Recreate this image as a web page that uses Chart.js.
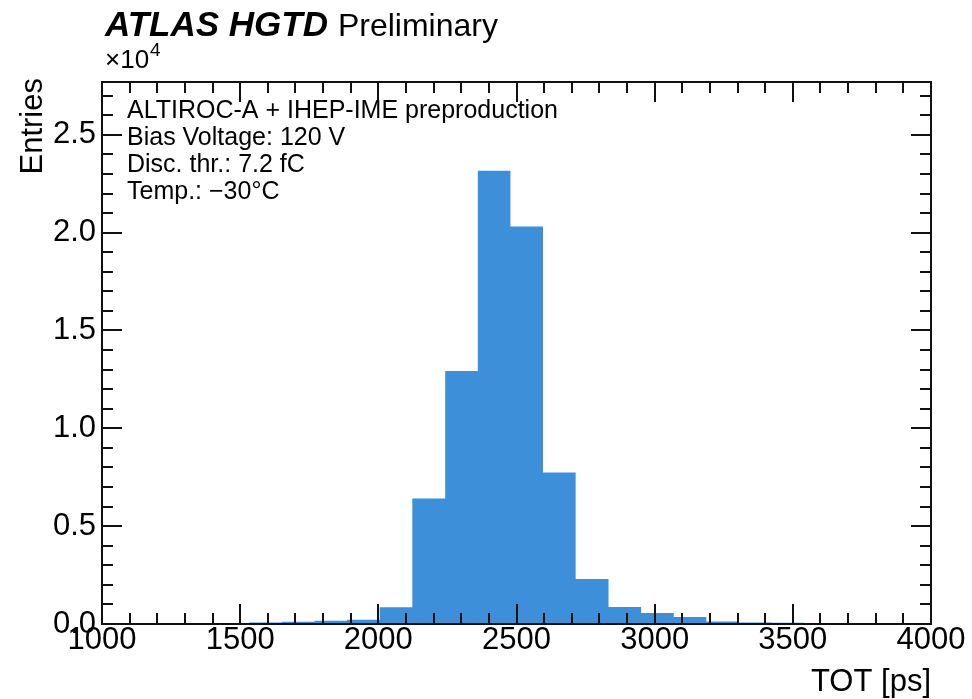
<!DOCTYPE html>
<html>
<head>
<meta charset="utf-8">
<script src="https://cdn.jsdelivr.net/npm/chart.js@4.4.1/dist/chart.umd.min.js"></script>
<style>
  html, body { margin: 0; padding: 0; background: #fff; }
  #wrap { width: 972px; height: 699px; position: relative; }
</style>
</head>
<body>
<div id="wrap"><canvas id="c"></canvas></div>
<script>
// ---- data ----
const binEdges = [1296, 1414, 1532, 1651, 1769, 1887, 2005, 2123, 2242, 2360, 2478,
                  2596, 2714, 2833, 2951, 3069, 3187, 3305, 3424, 3542, 3660];
const entries  = [45, 45, 80, 115, 165, 220, 850, 6415, 12930, 23170,
                  20315, 7740, 2306, 865, 560, 356, 130, 80, 70, 50];
const xTicks = [1000, 1500, 2000, 2500, 3000, 3500, 4000];
const yTicks = [0, 5000, 10000, 15000, 20000, 25000];
const yTickLabels = ["0.0", "0.5", "1.0", "1.5", "2.0", "2.5"];
const infoLines = ["ALTIROC-A + IHEP-IME preproduction", "Bias Voltage: 120 V",
                   "Disc. thr.: 7.2 fC", "Temp.: \u221230\u00B0C"];
const xTitle = "TOT [ps]";
const yTitle = "Entries";

const FONT = "'Liberation Sans', Arial, Helvetica, sans-serif";
const BLUE = "rgb(62,143,218)";

// step points: value of bin i spans [edge i, edge i+1]
const stepPoints = binEdges.map((e, i) => ({ x: e, y: i < entries.length ? entries[i] : 0 }));

const decor = {
  id: 'decor',
  afterDraw(chart) {
    const ctx = chart.ctx, a = chart.chartArea;
    const xs = chart.scales.x, ys = chart.scales.y;
    ctx.save();
    ctx.strokeStyle = '#111';
    ctx.lineWidth = 2;
    ctx.lineCap = 'butt';
    const seg = (x1, y1, x2, y2) => { ctx.beginPath(); ctx.moveTo(x1, y1); ctx.lineTo(x2, y2); ctx.stroke(); };
    // x ticks (bottom and top), minor every 100, major every 500
    for (let v = xs.min; v <= xs.max + 1e-6; v += 100) {
      const px = Math.round(xs.getPixelForValue(v));
      const L = (Math.round(v) % 500 === 0) ? 20 : 11;
      seg(px, a.bottom, px, a.bottom - L);
      seg(px, a.top, px, a.top + L);
    }
    // y ticks (left and right), minor every 1000, major every 5000
    for (let v = 0; v <= ys.max + 1e-6; v += 1000) {
      const py = Math.round(ys.getPixelForValue(v));
      const L = (Math.round(v) % 5000 === 0) ? 20 : 11;
      seg(a.left, py, a.left + L, py);
      seg(a.right, py, a.right - L, py);
    }
    ctx.strokeRect(a.left, a.top, a.right - a.left, a.bottom - a.top);

    ctx.fillStyle = '#000';
    ctx.textBaseline = 'alphabetic';
    ctx.textAlign = 'left';
    // title
    ctx.font = "italic bold 35px " + FONT;
    ctx.fillText("ATLAS HGTD", 105, 36);
    const w = ctx.measureText("ATLAS HGTD").width;
    ctx.font = "32px " + FONT;
    ctx.fillText("Preliminary", 105 + w + 10, 36);
    // exponent
    ctx.font = "26px " + FONT;
    ctx.fillText("\u00D710", 105, 68);
    const w2 = ctx.measureText("\u00D710").width;
    ctx.font = "19px " + FONT;
    ctx.fillText("4", 105 + w2 + 1, 56);
    // info text
    ctx.font = "25px " + FONT;
    const base = [118, 145, 172, 199];
    infoLines.forEach((t, i) => ctx.fillText(t, 127, base[i]));
    // axis titles
    ctx.font = "31px " + FONT;
    ctx.textAlign = 'right';
    ctx.fillText(xTitle, a.right, 691);
    ctx.save();
    ctx.translate(42, a.top - 4);
    ctx.rotate(-Math.PI / 2);
    ctx.textAlign = 'right';
    ctx.fillText(yTitle, 0, 0);
    ctx.restore();
    ctx.restore();
  }
};

new Chart(document.getElementById('c'), {
  type: 'line',
  data: {
    datasets: [{
      data: stepPoints,
      stepped: 'before',
      fill: 'origin',
      backgroundColor: BLUE,
      borderColor: 'rgba(0,0,0,0)',
      borderWidth: 0,
      pointRadius: 0,
      tension: 0
    }]
  },
  options: {
    responsive: true,
    maintainAspectRatio: false,
    animation: false,
    events: [],
    layout: { padding: { top: 82, right: 41, left: 0, bottom: 0 } },
    plugins: { legend: { display: false }, tooltip: { enabled: false }, title: { display: false } },
    scales: {
      x: {
        type: 'linear', min: 1000, max: 4000,
        afterFit: s => { s.height = 75; },
        afterBuildTicks: s => { s.ticks = xTicks.map(v => ({ value: v })); },
        grid: { display: false, drawTicks: false },
        border: { display: false },
        ticks: { font: { family: FONT, size: 31 }, color: '#000', padding: -2, maxRotation: 0, autoSkip: false,
                 callback: v => String(v) }
      },
      y: {
        type: 'linear', min: 0, max: 27700,
        afterFit: s => { s.width = 102; },
        afterBuildTicks: s => { s.ticks = yTicks.map(v => ({ value: v })); },
        grid: { display: false, drawTicks: false },
        border: { display: false },
        ticks: { font: { family: FONT, size: 31 }, color: '#000', padding: 6, autoSkip: false,
                 callback: v => yTickLabels[yTicks.indexOf(v)] }
      }
    }
  },
  plugins: [decor]
});
</script>
</body>
</html>
